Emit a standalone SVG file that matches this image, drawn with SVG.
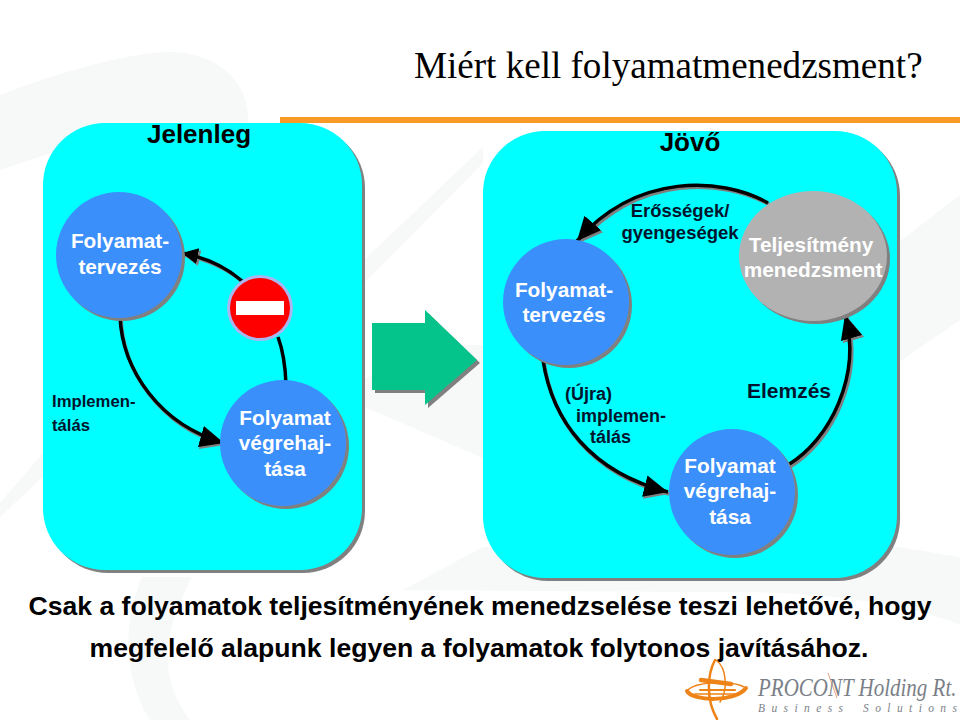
<svg xmlns="http://www.w3.org/2000/svg" width="960" height="720" viewBox="0 0 960 720">
<defs>
<marker id="a" markerUnits="userSpaceOnUse" markerWidth="26" markerHeight="26" refX="24" refY="12" orient="auto"><path d="M0 1L24 12L0 23Z" fill="#000"/></marker>
<marker id="as" markerUnits="userSpaceOnUse" markerWidth="26" markerHeight="26" refX="24" refY="12" orient="auto"><path d="M0 1L24 12L0 23Z" fill="#808080"/></marker>
<marker id="a2" markerUnits="userSpaceOnUse" markerWidth="18" markerHeight="18" refX="16" refY="8" orient="auto"><path d="M0 0L16 8L0 16Z" fill="#000"/></marker>
<marker id="as2" markerUnits="userSpaceOnUse" markerWidth="18" markerHeight="18" refX="16" refY="8" orient="auto"><path d="M0 0L16 8L0 16Z" fill="#808080"/></marker>
</defs>
<style>
text{font-family:"Liberation Sans",Arial,sans-serif}
.w{fill:#fff;font-size:20.8px;font-weight:bold;text-anchor:middle}
.k{fill:#00142e;font-size:18.5px;font-weight:bold;text-anchor:middle}
.l{fill:#00142e;font-size:16.7px;font-weight:bold}
.h{fill:#000;font-size:26px;font-weight:bold;text-anchor:middle}
.panel{fill:#00ffff}
.ps{fill:#808080}
.n{fill:#3b8ffb}
.s{fill:#808080}
.c{fill:none;stroke:#000;stroke-width:3.5}
.cs{fill:none;stroke:#808080;stroke-width:3.5}
.b{fill:#000;font-size:26.6px;font-weight:bold;text-anchor:middle}
.serif{font-family:"Liberation Serif",serif}
</style>
<rect width="960" height="720" fill="#fff"/>
<g id="background" fill="#f7f8f8">
<path d="M0 95C60 72 130 52 170 52C215 52 248 80 248 118V150H60L0 170Z"/>
<path d="M362 262L483 147V163L362 285Z"/>
<path d="M362 406L483 458V345H440L362 380Z"/>
<path d="M0 503L50 445V470L0 517Z"/>
<path d="M142 577H192C170 620 152 670 190 720H150C120 670 125 620 142 577Z"/>
<path d="M403 590L483 547H898L960 557V625C900 600 800 590 700 592Z"/>
<path d="M895 245L960 195V320L895 365Z"/>
</g>
<text x="414" y="78" font-size="37.1" class="serif" fill="#000">Miért kell folyamatmenedzsment?</text>
<rect x="280" y="117" width="680" height="6" fill="#fc9a28"/>

<g id="panel-left"><rect x="46" y="126" width="319" height="447" rx="62" class="ps"/><rect x="43" y="123" width="319" height="447" rx="62" class="panel"/><text x="199" y="143" class="h">Jelenleg</text></g>
<g id="panel-right"><rect x="486" y="134" width="414" height="447" rx="62" class="ps"/><rect x="483" y="131" width="414" height="447" rx="62" class="panel"/><text x="690" y="151" class="h">Jövő</text></g>

<g id="connectors">
<path d="M242 281Q218 260 182 253" class="cs" transform="translate(2 2)" marker-end="url(#as2)"/>
<path d="M242 281Q218 260 182 253" class="c" marker-end="url(#a2)"/>
<path d="M278 337Q285 356 286 384" class="c"/>
<path d="M120 316C122 370 160 425 224 443" class="cs" transform="translate(1 2)" marker-end="url(#as)"/>
<path d="M120 316C122 370 160 425 224 443" class="c" marker-end="url(#a)"/>
<path d="M768 203C722 177 637 172 577 241" class="cs" transform="translate(2 2)" marker-end="url(#as)"/>
<path d="M768 203C722 177 637 172 577 241" class="c" marker-end="url(#a)"/>
<path d="M543 360C552 420 590 472 668 492" class="cs" transform="translate(1 2)" marker-end="url(#as)"/>
<path d="M543 360C552 420 590 472 668 492" class="c" marker-end="url(#a)"/>
<path d="M788 465C830 440 862 375 845 315" class="cs" transform="translate(2 2)" marker-end="url(#as)"/>
<path d="M788 465C830 440 862 375 845 315" class="c" marker-end="url(#a)"/>
</g>

<g id="node-tervezes-1"><circle cx="122" cy="258" r="63" class="s"/><circle cx="119" cy="255" r="63" class="n"/><text x="120" y="248" class="w">Folyamat-</text><text x="120" y="274" class="w">tervezés</text></g>
<g id="node-stop"><circle cx="260" cy="308" r="33" fill="#a9b7f0"/><circle cx="260" cy="308" r="30" fill="#fe0000"/><rect x="236" y="301" width="48" height="14" fill="#fff"/></g>
<g id="node-vegrehajtas-1"><circle cx="286" cy="446" r="63" class="s"/><circle cx="283" cy="443" r="63" class="n"/><text x="285" y="425" class="w">Folyamat</text><text x="285" y="450" class="w">végrehaj-</text><text x="285" y="476" class="w">tása</text></g>
<g id="label-impl"><text x="52" y="407" class="l">Implemen-</text><text x="52" y="431" class="l">tálás</text></g>

<g id="node-tervezes-2"><circle cx="569" cy="305" r="63" class="s"/><circle cx="566" cy="302" r="63" class="n"/><text x="564" y="297" class="w">Folyamat-</text><text x="564" y="322" class="w">tervezés</text></g>
<g id="node-teljesitmeny"><ellipse cx="816" cy="259" rx="74" ry="65" class="s"/><ellipse cx="813" cy="256" rx="74" ry="65" fill="#b2b2b2"/><text x="811" y="252" class="w">Teljesítmény</text><text x="813" y="277" class="w">menedzsment</text></g>
<g id="node-vegrehajtas-2"><circle cx="735" cy="495" r="63" class="s"/><circle cx="732" cy="492" r="63" class="n"/><text x="730" y="473" class="w">Folyamat</text><text x="730" y="498" class="w">végrehaj-</text><text x="730" y="524" class="w">tása</text></g>
<g id="label-erossegek"><text x="680" y="217" class="k">Erősségek/</text><text x="680" y="239" class="k">gyengeségek</text></g>
<g id="label-ujra"><text x="565" y="400" class="l" style="font-size:18px">(Újra)</text><text x="576" y="422" class="l" style="font-size:18px">implemen-</text><text x="590" y="443" class="l" style="font-size:18px">tálás</text></g>
<g id="label-elemzes"><text x="789" y="398" class="k" style="font-size:21px">Elemzés</text></g>

<g id="big-arrow"><path d="M375 326H428V313L480 363L428 408V393H375Z" fill="#808080"/><path d="M372 323H425V310L477 360L425 405V390H372Z" fill="#04c48c"/></g>

<text x="480" y="615" class="b">Csak a folyamatok teljesítményének menedzselése teszi lehetővé, hogy</text>
<text x="479" y="657" class="b">megfelelő alapunk legyen a folyamatok folytonos javításához.</text>

<g id="logo">
<g fill="none" stroke="#ee8318" stroke-linecap="round">
<path d="M687 691C692 701 735 703 746 688" stroke-width="4"/>
<path d="M687 691C695 681 735 680 746 688" stroke-width="1.5"/>
<path d="M701 680L731 684" stroke-width="4.5"/>
<path d="M700 690H735" stroke-width="2"/>
<path d="M695 694H738" stroke-width="1.5"/>
<path d="M715 660C707 675 706 700 717 719" stroke-width="2.5"/>
<path d="M716 660C727 668 728 690 720 702" stroke-width="1.5"/>
</g>
<path d="M828 673L837 698" stroke="#e8a080" stroke-width="1" fill="none"/>
<text transform="translate(758 696) scale(.84 1)" class="serif" style="font-size:25px;font-style:italic" fill="#7b7f87">PROCONT Holding Rt.</text>
<text x="758" y="712" class="serif" style="font-size:11.5px;font-style:italic" fill="#7b7f87" textLength="85">Business</text>
<text x="863" y="712" class="serif" style="font-size:11.5px;font-style:italic" fill="#7b7f87" textLength="94">Solutions</text>
</g>
</svg>
